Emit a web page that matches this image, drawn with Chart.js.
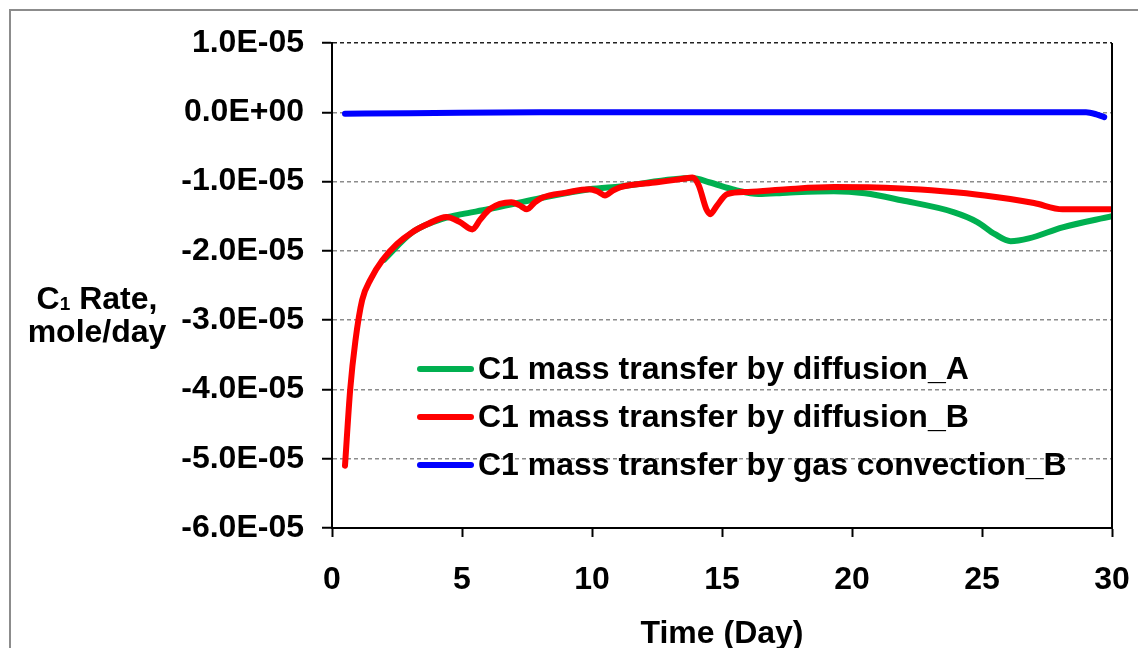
<!DOCTYPE html>
<html>
<head>
<meta charset="utf-8">
<script src="https://cdn.jsdelivr.net/npm/chart.js@4.4.1/dist/chart.umd.min.js"></script>
<style>
  html, body { margin: 0; padding: 0; background: #fff; }
  #wrap { position: relative; width: 1138px; height: 648px; }
</style>
</head>
<body>
<div id="wrap"><canvas id="rateChart"></canvas></div>
<script>
// --- data (rate in mole/day) ---
const labels = ['C1 mass transfer by diffusion_A', 'C1 mass transfer by diffusion_B', 'C1 mass transfer by gas convection_B'];

const daysA = [2.0, 3.1, 4.4, 5.0, 6.0, 7.0, 8.0, 9.9, 11.1, 13.86, 14.5, 15.5, 16.4, 17.5, 19.3, 20.5, 21.9, 23.9, 24.8, 25.5, 26.1, 26.8, 28.1, 30];
const rateA = [-2.13e-5, -1.73e-5, -1.52e-5, -1.47e-5, -1.40e-5, -1.32e-5, -1.24e-5, -1.11e-5, -1.07e-5, -0.95e-5, -1.01e-5, -1.12e-5, -1.18e-5, -1.16e-5, -1.14e-5, -1.17e-5, -1.27e-5, -1.44e-5, -1.58e-5, -1.76e-5, -1.86e-5, -1.82e-5, -1.66e-5, -1.50e-5];

const daysB = [0.5, 0.7, 0.9, 1.16, 1.5, 1.93, 2.5, 3.09, 3.7, 4.4, 4.9, 5.4, 5.7, 6.06, 6.9, 7.2, 7.5, 7.8, 8.1, 9.0, 9.9, 10.2, 10.5, 10.8, 11.1, 12.5, 13.5, 13.86, 14.1, 14.4, 14.55, 14.8, 15.2, 16.0, 17.5, 19.3, 21.9, 23.5, 25.1, 27.0, 28.1, 30];
const rateB = [-5.1e-5, -4.0e-5, -3.3e-5, -2.71e-5, -2.4e-5, -2.14e-5, -1.9e-5, -1.73e-5, -1.61e-5, -1.51e-5, -1.58e-5, -1.69e-5, -1.55e-5, -1.40e-5, -1.30e-5, -1.34e-5, -1.40e-5, -1.30e-5, -1.23e-5, -1.16e-5, -1.11e-5, -1.14e-5, -1.20e-5, -1.13e-5, -1.08e-5, -1.01e-5, -0.96e-5, -0.94e-5, -1.05e-5, -1.40e-5, -1.47e-5, -1.35e-5, -1.18e-5, -1.15e-5, -1.11e-5, -1.08e-5, -1.10e-5, -1.14e-5, -1.20e-5, -1.31e-5, -1.40e-5, -1.40e-5];

const daysConv = [0.5, 3, 8, 15, 22, 28.5, 29.0, 29.4, 29.7];
const rateConv = [-0.02e-5, -0.015e-5, 0, 0, 0, 0, 0.0, -0.03e-5, -0.07e-5];

const colors = ['#00b050', '#ff0000', '#0000ff'];
const FONT = "'Liberation Sans', Arial, sans-serif";

function toPoints(xs, ys) {
  return xs.map((x, i) => ({ x: x, y: ys[i] }));
}

function sci(v) {
  if (Math.abs(v) < 1e-12) return '0.0E+00';
  const parts = v.toExponential(1).split('e');
  const n = parseInt(parts[1], 10);
  return parts[0] + 'E' + (n < 0 ? '-' : '+') + String(Math.abs(n)).padStart(2, '0');
}

// frame, right border, y title, x title, legend
const decor = {
  id: 'decor',
  beforeDraw(chart) {
    const ctx = chart.ctx;
    ctx.save();
    ctx.strokeStyle = '#8c8c8c';
    ctx.lineWidth = 2;
    ctx.strokeRect(10, 10, 1300, 800);
    ctx.restore();
  },
  afterDatasetsDraw(chart) {
    const ctx = chart.ctx;
    const a = chart.chartArea;
    ctx.save();
    // right edge of plot area
    ctx.strokeStyle = '#000';
    ctx.lineWidth = 2;
    ctx.beginPath();
    ctx.moveTo(a.right, a.top);
    ctx.lineTo(a.right, a.bottom);
    ctx.stroke();

    // legend inside the plot
    const rows = [369, 417, 465];
    ctx.lineCap = 'round';
    ctx.font = 'bold 32px ' + FONT;
    ctx.textBaseline = 'middle';
    ctx.fillStyle = '#000';
    labels.forEach((t, i) => {
      ctx.strokeStyle = colors[i];
      ctx.lineWidth = 6;
      ctx.beginPath();
      ctx.moveTo(420, rows[i]);
      ctx.lineTo(471, rows[i]);
      ctx.stroke();
      ctx.fillText(t, 478, rows[i] + 1);
    });

    // x title
    ctx.textAlign = 'center';
    ctx.textBaseline = 'alphabetic';
    ctx.fillText('Time (Day)', (a.left + a.right) / 2, 643);

    // y title, with subscript 1
    const big = 'bold 32px ' + FONT, small = 'bold 19px ' + FONT;
    ctx.font = big;
    const wC = ctx.measureText('C').width;
    const wR = ctx.measureText(' Rate,').width;
    ctx.font = small;
    const w1 = ctx.measureText('1').width;
    let x = 97 - (wC + w1 + wR) / 2;
    ctx.textAlign = 'left';
    ctx.font = big;
    ctx.fillText('C', x, 309);
    ctx.font = small;
    ctx.fillText('1', x + wC, 310);
    ctx.font = big;
    ctx.fillText(' Rate,', x + wC + w1, 309);
    ctx.textAlign = 'center';
    ctx.fillText('mole/day', 97, 342);
    ctx.restore();
  }
};

Chart.defaults.font.family = FONT;
Chart.defaults.font.size = 32;
Chart.defaults.font.weight = 'bold';
Chart.defaults.color = '#000';

const ctx = document.getElementById('rateChart').getContext('2d');
new Chart(ctx, {
  type: 'line',
  data: {
    datasets: [
      { label: labels[2], data: toPoints(daysConv, rateConv), borderColor: colors[2], order: 0 },
      { label: labels[1], data: toPoints(daysB, rateB), borderColor: colors[1], order: 1 },
      { label: labels[0], data: toPoints(daysA, rateA), borderColor: colors[0], order: 2 }
    ]
  },
  options: {
    responsive: true,
    maintainAspectRatio: false,
    animation: false,
    layout: { padding: { left: 0, top: 43, right: 26, bottom: 0 } },
    elements: {
      point: { radius: 0 },
      line: { borderWidth: 6, cubicInterpolationMode: 'monotone', fill: false, borderCapStyle: 'round' }
    },
    plugins: { legend: { display: false }, tooltip: { enabled: false } },
    scales: {
      x: {
        type: 'linear',
        min: 0, max: 30,
        ticks: { stepSize: 5, padding: 24, maxRotation: 0 },
        grid: { drawOnChartArea: false, drawTicks: true, tickLength: 9, tickColor: '#000', tickWidth: 2 },
        border: { color: '#000', width: 2 },
        afterFit(scale) {
          scale.height = 120;
          scale.paddingLeft = 0;
          scale.paddingRight = 0;
        }
      },
      y: {
        type: 'linear',
        min: -6e-5, max: 1e-5,
        ticks: { stepSize: 1e-5, padding: 18, callback: (v) => sci(v) },
        grid: {
          color: (c) => (c.tick && Math.abs(c.tick.value - 1e-5) < 1e-9 ? '#222' : '#8c8c8c'),
          lineWidth: 1.5,
          drawTicks: true, tickLength: 10, tickColor: '#000', tickWidth: 2
        },
        border: { color: '#000', width: 2, dash: [4, 3] },
        afterFit(scale) {
          scale.width = 332;
          scale.paddingTop = 0;
          scale.paddingBottom = 0;
        }
      }
    }
  },
  plugins: [decor]
});
</script>
</body>
</html>
